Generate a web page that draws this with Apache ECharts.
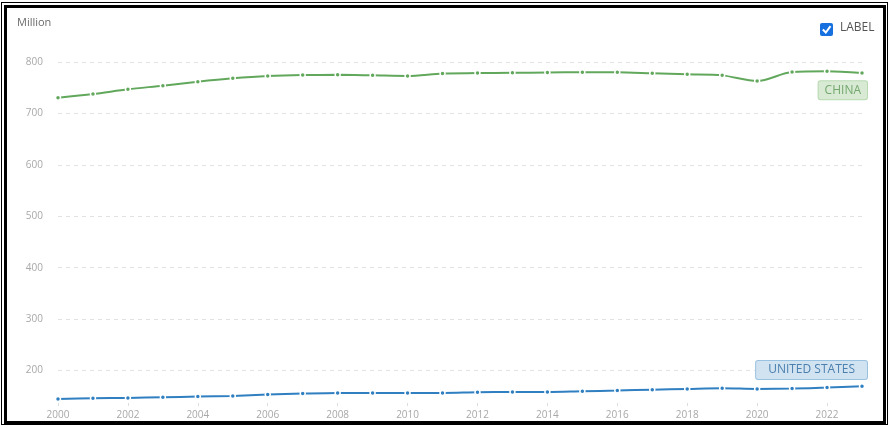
<!DOCTYPE html>
<html>
<head>
<meta charset="utf-8">
<script src="https://cdn.jsdelivr.net/npm/echarts@6/dist/echarts.min.js"></script>
<style>
html,body{margin:0;padding:0;background:#fff;}
#outer{position:absolute;left:1px;top:2px;width:887px;height:423px;border:1px solid #000;box-sizing:border-box;}
#inner{position:absolute;left:4px;top:5px;width:882px;height:419px;border:3px solid #000;box-sizing:border-box;}
#chart{position:absolute;left:0;top:0;width:891px;height:428px;}
</style>
</head>
<body>
<div id="outer"></div>
<div id="inner"></div>
<div id="chart"></div>
<script>
const years = ['2000','2001','2002','2003','2004','2005','2006','2007','2008','2009','2010','2011','2012','2013','2014','2015','2016','2017','2018','2019','2020','2021','2022','2023'];
const china = [730.7, 737.7, 746.9, 754.0, 761.8, 768.3, 772.8, 774.7, 775.0, 774.0, 772.8, 777.6, 778.4, 779.0, 779.6, 780.2, 780.0, 778.0, 776.0, 774.0, 763.0, 780.5, 781.9, 778.6];
const us = [145.0, 146.3, 146.9, 148.2, 149.4, 150.8, 153.3, 155.3, 156.6, 156.6, 156.6, 156.6, 158.0, 158.6, 158.6, 159.9, 161.1, 163.0, 164.4, 165.7, 164.4, 165.0, 167.0, 169.6];
const yTicks = [200, 300, 400, 500, 600, 700, 800];
const seriesNames = ['CHINA', 'UNITED STATES'];

const chart = echarts.init(document.getElementById('chart'));
function withEndLabel(arr, labelOpt) {
  return arr.map((v, i) => i === arr.length - 1 ? { value: v, label: labelOpt } : v);
}
const font = "'Open Sans', 'Noto Sans', sans-serif";
chart.setOption({
  animation: false,
  grid: { left: 58, right: 29, top: 62, bottom: 25 },
  xAxis: {
    type: 'category',
    data: years,
    boundaryGap: false,
    axisLine: { show: false },
    axisTick: { show: true, alignWithLabel: true, length: 3, interval: 1, lineStyle: { color: '#dddddd' } },
    axisLabel: { interval: 1, color: '#a8a8a8', fontSize: 10, margin: 7, fontFamily: font }
  },
  yAxis: {
    type: 'value',
    min: 137,
    max: 800,
    axisLine: { show: false },
    axisTick: { show: false },
    axisLabel: {
      color: '#a8a8a8', fontSize: 10, margin: 15, fontFamily: font, showMinLabel: false,
      formatter: v => yTicks.includes(Math.round(v)) ? String(Math.round(v)) : ''
    },
    splitLine: { show: true, showMinLine: false, lineStyle: { color: '#e2e2e2', type: [4, 4], width: 1 } }
  },
  series: [
    {
      name: seriesNames[0], type: 'line', smooth: 0.3,
      data: withEndLabel(china, {
        show: true, position: 'bottom', align: 'right', offset: [5, 0], distance: 5,
        formatter: seriesNames[0], color: '#74a86e', fontSize: 12, fontFamily: font,
        backgroundColor: '#d8ead4', borderColor: '#b8d9b2', borderWidth: 1, borderRadius: 2, padding: [3, 6]
      }),
      symbol: 'circle', symbolSize: 5,
      lineStyle: { color: '#62a85c', width: 2 },
      itemStyle: { color: '#62a85c', borderColor: '#ffffff', borderWidth: 1.5 }
    },
    {
      name: seriesNames[1], type: 'line', smooth: 0.3,
      data: withEndLabel(us, {
        show: true, position: 'top', align: 'right', offset: [5, 0], distance: 4,
        formatter: seriesNames[1], color: '#4b7fae', fontSize: 12, fontFamily: font,
        backgroundColor: '#d1e3f1', borderColor: '#99c1e0', borderWidth: 1, borderRadius: 2, padding: [3, 12]
      }),
      symbol: 'circle', symbolSize: 5,
      lineStyle: { color: '#2f7fc1', width: 2 },
      itemStyle: { color: '#2f7fc1', borderColor: '#ffffff', borderWidth: 1.5 }
    }
  ],
  graphic: [
    { type: 'text', left: 17, top: 17, style: { text: 'Million', fill: '#6a6a6a', fontSize: 11, fontFamily: font } },
    { type: 'rect', shape: { x: 820, y: 23, width: 13, height: 13, r: 2 }, style: { fill: '#1670e0' } },
    { type: 'polyline', shape: { points: [[822.8, 29.5], [825.8, 32.5], [830.5, 26.2]] }, style: { stroke: '#ffffff', lineWidth: 2, fill: null } },
    { type: 'text', left: 840, top: 22, style: { text: 'LABEL', fill: '#555555', fontSize: 12, fontFamily: font } }
  ]
});
</script>
</body>
</html>
